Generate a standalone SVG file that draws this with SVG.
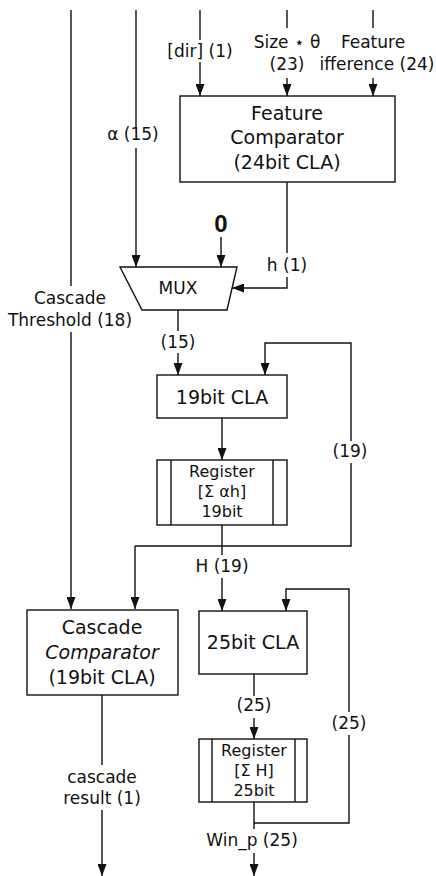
<svg xmlns="http://www.w3.org/2000/svg" width="436" height="876" viewBox="0 0 436 876">
<defs>
<marker id="ah" markerUnits="userSpaceOnUse" markerWidth="13" markerHeight="9" refX="12" refY="4.5" orient="auto">
<path d="M0,0 L12,4.5 L0,9 z" fill="#111"/>
</marker>
<style>
.b{fill:#fff;stroke:#111;stroke-width:1.4}
.w{fill:none;stroke:#111;stroke-width:1.4}
.a{fill:none;stroke:#111;stroke-width:1.4;marker-end:url(#ah)}
text{font-family:"DejaVu Sans","Liberation Sans",sans-serif;fill:#111;text-anchor:middle}
.l{font-size:17px}
.t{font-size:19px}
.r{font-size:16px}
</style>
</defs>
<rect width="436" height="876" fill="#fff"/>
<g id="connectors">
<!-- cascade threshold -->
<path class="w" d="M71,10 V286"/>
<path class="a" d="M71,332 V609"/>
<!-- alpha -->
<path class="w" d="M136,10 V127"/>
<path class="a" d="M136,148 V267"/>
<!-- dir -->
<path class="w" d="M200,10 V40"/>
<path class="a" d="M200,62 V96"/>
<!-- size theta -->
<path class="w" d="M287,10 V28"/>
<path class="a" d="M287,78 V96"/>
<!-- feature difference -->
<path class="w" d="M373,10 V28"/>
<path class="a" d="M373,78 V96"/>
<!-- 0 -->
<path class="a" d="M221,237 V267"/>
<!-- h -->
<path class="w" d="M287,182 V253"/>
<path class="a" d="M287,277 V288 H232"/>
<!-- mux out -->
<path class="w" d="M178,310 V331"/>
<path class="a" d="M178,353 V375"/>
<!-- 19bit CLA -> register -->
<path class="a" d="M222,418 V460"/>
<!-- feedback 19 -->
<path class="a" d="M351,441 V343 H265 V375"/>
<path class="w" d="M351,463 V546 H135"/>
<path class="a" d="M135,546 V609"/>
<!-- register -> H -->
<path class="w" d="M222,525 V555"/>
<path class="a" d="M222,578 V611"/>
<!-- 25bit feedback -->
<path class="a" d="M349,712 V589 H286 V611"/>
<path class="w" d="M349,735 V823 H254"/>
<!-- 25bit CLA -> register -->
<path class="w" d="M254,674 V696"/>
<path class="a" d="M254,718 V739"/>
<!-- register2 out -->
<path class="w" d="M254,802 V829"/>
<path class="a" d="M254,853 V876"/>
<!-- cascade result -->
<path class="w" d="M102,695 V765"/>
<path class="a" d="M102,810 V876"/>
</g>
<g id="labels">
<text class="l" x="200" y="57">[dir] (1)</text>
<text class="l" x="287" y="48">Size ⋆ θ</text>
<text class="l" x="287" y="70">(23)</text>
<text class="l" x="373" y="48">Feature</text>
<text class="l" x="377" y="70">ifference (24)</text>
<text class="l" x="133" y="140">α (15)</text>
<text x="221" y="232" style="font-family:'Liberation Sans',sans-serif;font-size:24px;font-weight:bold">0</text>
<text class="l" x="287" y="271">h (1)</text>
<text class="l" x="70" y="304">Cascade</text>
<text class="l" x="70" y="326">Threshold (18)</text>
<text class="l" x="178" y="348">(15)</text>
<text class="l" x="350" y="457">(19)</text>
<text class="l" x="222" y="572">H (19)</text>
<text class="l" x="254" y="711">(25)</text>
<text class="l" x="349" y="729">(25)</text>
<text class="l" x="102" y="783">cascade</text>
<text class="l" x="102" y="804">result (1)</text>
<text class="l" x="252" y="846">Win_p (25)</text>
</g>
<g id="feature-comparator">
<rect class="b" x="180" y="96" width="215" height="86"/>
<text class="t" x="287" y="120">Feature</text>
<text class="t" x="287" y="144">Comparator</text>
<text class="t" x="287" y="169">(24bit CLA)</text>
</g>
<g id="mux">
<polygon class="b" points="120,267 237,267 227,310 142,310"/>
<text x="178" y="294" style="font-size:17px">MUX</text>
</g>
<g id="cla19">
<rect class="b" x="157" y="375" width="130" height="43"/>
<text class="t" x="222" y="404">19bit CLA</text>
</g>
<g id="register19">
<rect class="b" x="157" y="460" width="130" height="65"/>
<path class="w" d="M171,460 V525 M273,460 V525"/>
<text class="r" x="222" y="477">Register</text>
<text class="r" x="222" y="497">[Σ αh]</text>
<text class="r" x="222" y="517">19bit</text>
</g>
<g id="cascade-comparator">
<rect class="b" x="27" y="610" width="151" height="85"/>
<text class="t" x="102" y="634">Cascade</text>
<text class="t" x="102" y="659" style="font-style:italic">Comparator</text>
<text class="t" x="102" y="684">(19bit CLA)</text>
</g>
<g id="cla25">
<rect class="b" x="199" y="611" width="108" height="63"/>
<text class="t" x="253" y="649">25bit CLA</text>
</g>
<g id="register25">
<rect class="b" x="199" y="739" width="108" height="63"/>
<path class="w" d="M212,739 V802 M295,739 V802"/>
<text class="r" x="254" y="756">Register</text>
<text class="r" x="254" y="776">[Σ H]</text>
<text class="r" x="254" y="796">25bit</text>
</g>
</svg>
